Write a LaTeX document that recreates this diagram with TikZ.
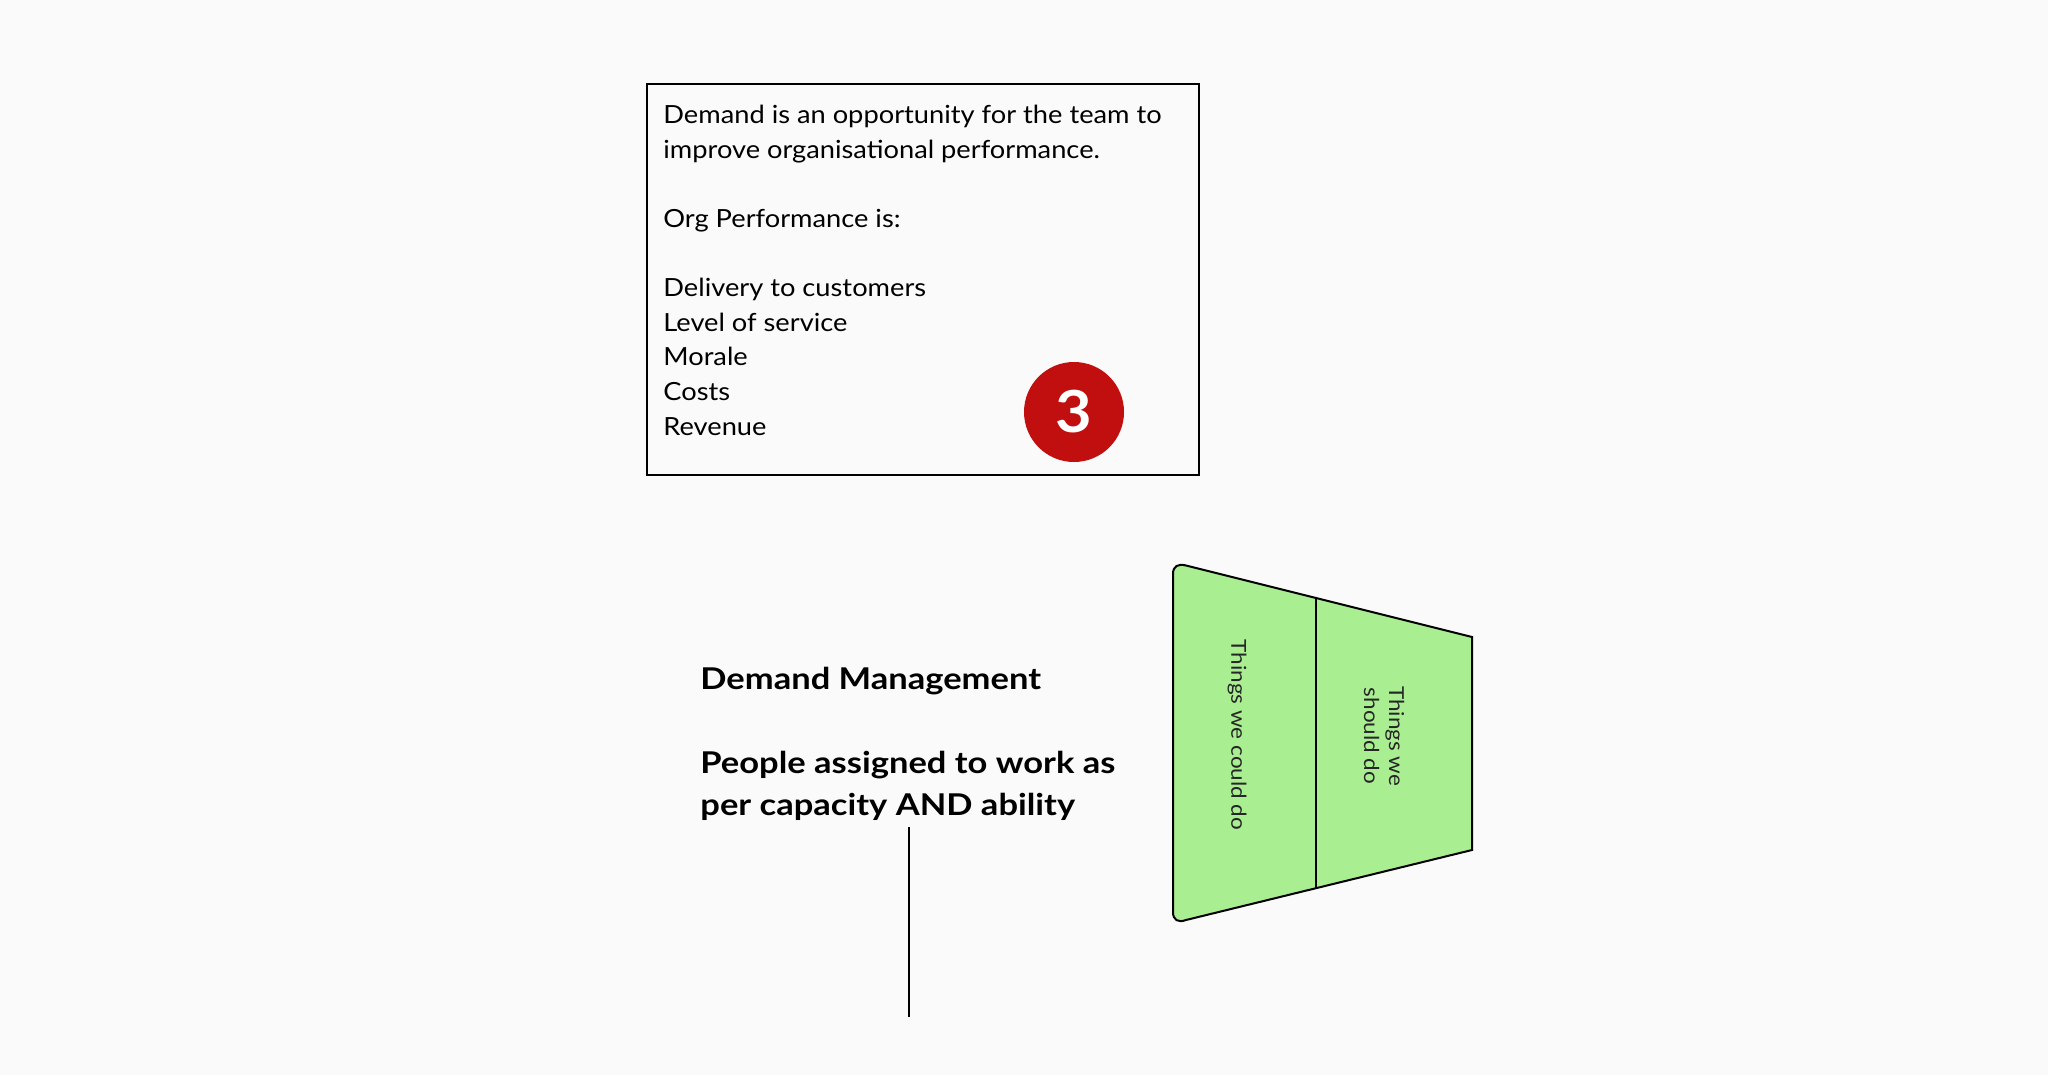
\documentclass[tikz,border=0pt]{standalone}
\usepackage{fontspec}
\setmainfont{Lato}[FakeStretch=1.09]
\newfontfamily\headfont{Lato}[FakeStretch=1.15]
\usetikzlibrary{positioning}
\definecolor{paper}{HTML}{FAFAFA}
\definecolor{badgered}{HTML}{C10E0E}
\definecolor{funnelgreen}{HTML}{AAEE92}

\begin{document}
\begin{tikzpicture}[x=0.5pt,y=-0.5pt,
      infobox/.style={draw, line width=1pt, minimum width=276pt,
      minimum height=195.5pt, inner sep=0pt},
      bodytext/.style={anchor=base west, align=left, inner sep=0pt,
      font=\fontsize{12.5pt}{17.3pt}\selectfont},
      badge/.style={circle, fill=badgered, text=white, minimum size=50pt,
      inner sep=0pt, font=\bfseries\fontsize{29pt}{29pt}\selectfont},
      headtext/.style={anchor=base west, align=left, inner sep=0pt,
      font=\headfont\bfseries\fontsize{15pt}{21pt}\selectfont},
      funneltext/.style={rotate=-90, align=center, inner sep=0pt,
      text=black!85, font=\fontsize{10.3pt}{12.5pt}\selectfont}]
    \useasboundingbox (0,0) rectangle (2048,1075);
    \fill [paper] (0,0) rectangle (2048,1075);
    %% performance box
    \node [infobox] (info) at (923,279.5) {};
    % base of a multi-line node sits on its last line
    \node [bodytext] (perf) at (663,435) {Demand is an opportunity for the team to\\
      improve organisational performance.\\[17.3pt]
      Org Performance is:\\[17.3pt]
      Delivery to customers\\
      Level of service\\
      Morale\\
      Costs\\
      Revenue};
    \node [badge] (three) at (1074,412) {3};
    %% headings
    \node [headtext] (dm) at (700,689) {Demand Management};
    \node [headtext] (people) at (700,815) {People assigned to work as\\per capacity AND ability};
    \coordinate (lineend) at (909,1017);
    \draw [line width=0.8pt] (lineend |- people.south) ++(0,7) -- (lineend);
    %% funnel
    \filldraw [fill=funnelgreen, line width=1pt] (1472,637) -- (1186,565.5)
      .. controls (1178,563.5) and (1173,566) .. (1173,574) -- (1173,912)
      .. controls (1173,920) and (1178,923) .. (1186,920) -- (1472,850) -- cycle;
    \draw [line width=0.8pt] (1316,598) -- (1316,888);
    \node [funneltext] (could) at (1237,735) {Things we could do};
    \node [funneltext] (should) at (1384,736) {Things we\\should do};
  \end{tikzpicture}
\end{document}
